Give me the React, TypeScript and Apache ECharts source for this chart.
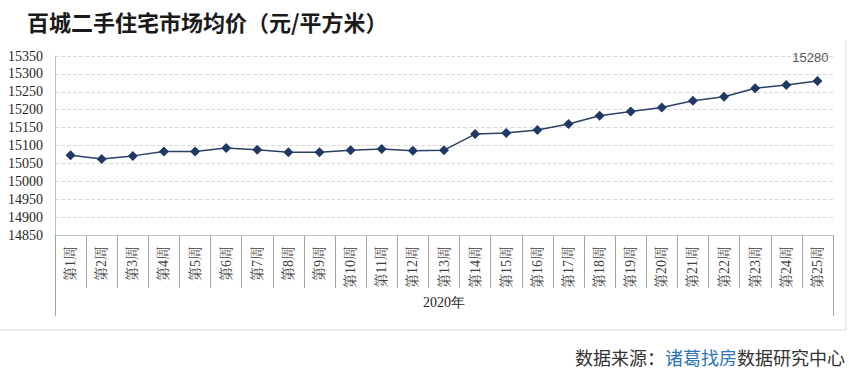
import React, { useEffect, useRef } from "react";
import * as echarts from "echarts";

const weeks = [
  "第1周", "第2周", "第3周", "第4周", "第5周", "第6周", "第7周", "第8周", "第9周", "第10周",
  "第11周", "第12周", "第13周", "第14周", "第15周", "第16周", "第17周", "第18周", "第19周", "第20周",
  "第21周", "第22周", "第23周", "第24周", "第25周",
];
const prices = [
  15073, 15062, 15071, 15083, 15083, 15093, 15088, 15081, 15081, 15087,
  15090, 15085, 15087, 15132, 15135, 15143, 15160, 15183, 15195, 15206,
  15225, 15236, 15260, 15269, 15280,
];
const yearLabels = ["2020年"];
const yMin = 14850;
const yMax = 15350;
const yStep = 50;
const titleText = "百城二手住宅市场均价（元/平方米）";

export default function App() {
  const ref = useRef<HTMLDivElement>(null);
  useEffect(() => {
    document.body.style.margin = "0";
    const chart = echarts.init(ref.current!, null, { renderer: "svg" });
    const lastIdx = prices.length - 1;
    const seriesData = prices.map((v, i) =>
      i === lastIdx
        ? {
            value: v,
            label: {
              show: true,
              position: "top",
              distance: 6,
              offset: [-7, -6],
              color: "#595959",
              fontSize: 13,
              fontFamily: "Liberation Sans, Arial, sans-serif",
            },
          }
        : v
    );
    chart.setOption({
      animation: false,
      backgroundColor: "#ffffff",
      grid: { left: 55, right: 16, top: 56, bottom: 138, containLabel: false },
      xAxis: [
        {
          type: "category",
          data: weeks,
          boundaryGap: true,
          axisLine: { show: true, lineStyle: { color: "#bfbfbf" } },
          axisTick: { show: true, interval: 0, length: 53, lineStyle: { color: "#a6a6a6" } },
          axisLabel: {
            interval: 0,
            rotate: 90,
            margin: 11,
            fontSize: 14,
            color: "#404040",
            fontFamily: "Liberation Serif, 'Noto Serif CJK SC', serif",
          },
        },
        {
          type: "category",
          data: yearLabels,
          position: "bottom",
          boundaryGap: true,
          axisLine: { show: false },
          axisTick: { show: true, interval: 0, length: 81, lineStyle: { color: "#a6a6a6" } },
          axisLabel: {
            margin: 60,
            fontSize: 14,
            color: "#262626",
            fontFamily: "Liberation Serif, serif",
          },
        },
      ],
      yAxis: {
        type: "value",
        min: yMin,
        max: yMax,
        interval: yStep,
        axisLine: { show: true, lineStyle: { color: "#bfbfbf" } },
        axisTick: { show: false },
        axisLabel: {
          margin: 12,
          fontSize: 14,
          color: "#262626",
          fontFamily: "Liberation Serif, 'Times New Roman', serif",
          formatter: (v: number) => String(v),
        },
        splitLine: { show: true, lineStyle: { color: "#d9d9d9", type: "dashed" } },
      },
      series: [
        {
          type: "line",
          xAxisIndex: 0,
          data: seriesData,
          symbol: "diamond",
          symbolSize: 10,
          lineStyle: { color: "#2b4064", width: 1.5 },
          itemStyle: { color: "#1f3864" },
        },
      ],
      graphic: [
        {
          type: "text",
          left: 27,
          top: 10,
          style: {
            text: titleText,
            fontSize: 22,
            fontWeight: "bold",
            fill: "#1a1a1a",
            fontFamily: "'Noto Sans CJK SC', sans-serif",
          },
        },
        {
          type: "line",
          shape: { x1: 846, y1: 40, x2: 846, y2: 330 },
          style: { stroke: "#d9d9d9", lineWidth: 1 },
        },
        {
          type: "line",
          shape: { x1: 0, y1: 330, x2: 846, y2: 330 },
          style: { stroke: "#d9d9d9", lineWidth: 1 },
        },
        {
          type: "text",
          right: 4,
          top: 348,
          style: {
            text: "{a|数据来源：}{b|诸葛找房}{a|数据研究中心}",
            rich: {
              a: { fontSize: 18, fill: "#333333", fontFamily: "'Noto Sans CJK SC', sans-serif" },
              b: { fontSize: 18, fill: "#2e75b6", fontFamily: "'Noto Sans CJK SC', sans-serif" },
            },
          },
        },
      ],
    });
    return () => chart.dispose();
  }, []);
  return <div ref={ref} style={{ width: 849, height: 373 }} />;
}
